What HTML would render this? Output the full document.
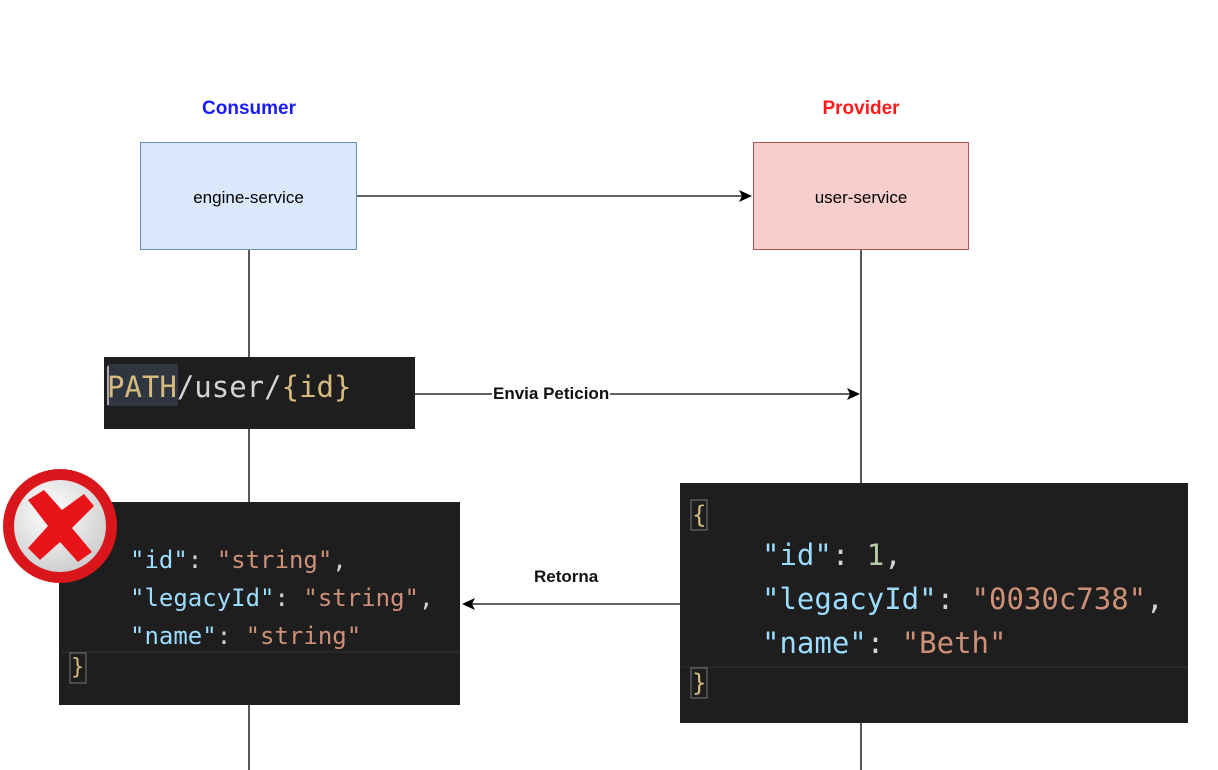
<!DOCTYPE html>
<html><head><meta charset="utf-8"><style>
body{margin:0;width:1218px;height:770px;background:#fff;position:relative;overflow:hidden;font-family:"Liberation Sans",sans-serif}
.a{position:absolute}
.mono{font-family:"DejaVu Sans Mono","Liberation Mono",monospace;white-space:pre}
.k{color:#9cdcfe}.s{color:#ce9178}.n{color:#b5cea8}.w{color:#d4d4d4}
</style></head><body>
<svg class="a" style="left:0;top:0" width="1218" height="770">
<line x1="249" y1="250" x2="249" y2="770" stroke="#000" stroke-width="1.3"/>
<line x1="861" y1="250" x2="861" y2="770" stroke="#000" stroke-width="1.3"/>
<rect x="140.5" y="142.5" width="216" height="107" fill="#dae8fc" stroke="#6c8ebf"/>
<rect x="753.5" y="142.5" width="215" height="107" fill="#f8cecc" stroke="#b85450"/>
<line x1="357" y1="196" x2="742" y2="196" stroke="#000" stroke-width="1.3"/>
<polygon points="752,196 739,190 742,196 739,202" fill="#000"/>
<rect x="104" y="357" width="311" height="72" fill="#1e1e1e"/>
<line x1="415" y1="394" x2="850" y2="394" stroke="#000" stroke-width="1.3"/>
<polygon points="860,394 847,388 850,394 847,400" fill="#000"/>
<rect x="59" y="502" width="401" height="203" fill="#1e1e1e"/>
<rect x="680" y="483" width="508" height="240" fill="#1e1e1e"/>
<line x1="680" y1="604" x2="472" y2="604" stroke="#000" stroke-width="1.3"/>
<polygon points="462,604 475,598 472,604 475,610" fill="#000"/>
<rect x="108" y="364" width="70" height="42" fill="#2f3640"/>
<line x1="108" y1="366" x2="108" y2="405" stroke="#aaa" stroke-width="2"/>
<rect x="70" y="653" width="16" height="30" fill="none" stroke="#777"/>
<rect x="691" y="500" width="16" height="30" fill="none" stroke="#777"/>
<rect x="691" y="668" width="16" height="30" fill="none" stroke="#777"/>
<line x1="682" y1="667" x2="1188" y2="667" stroke="#333"/>
<line x1="62" y1="652" x2="460" y2="652" stroke="#333"/>
<defs><radialGradient id="g" cx="0.4" cy="0.35" r="0.7"><stop offset="0" stop-color="#fff"/><stop offset="1" stop-color="#ccc"/></radialGradient></defs>
<circle cx="60" cy="526" r="57" fill="#d8161b"/>
<circle cx="60" cy="526" r="46" fill="url(#g)"/>
<path d="M28 500 L44 490 L62 510 L84 494 L94 506 L72 528 L92 552 L78 562 L60 542 L40 560 L28 548 L48 526 Z" fill="#e8141a"/>
</svg>
<div class="a" style="left:149px;top:98px;width:200px;text-align:center;color:#1a1aff;font-weight:bold;font-size:19px">Consumer</div>
<div class="a" style="left:761px;top:98px;width:200px;text-align:center;color:#ff1a1a;font-weight:bold;font-size:19px">Provider</div>
<div class="a" style="left:140px;top:188px;width:217px;text-align:center;font-size:17px">engine-service</div>
<div class="a" style="left:753px;top:188px;width:216px;text-align:center;font-size:17px">user-service</div>
<div class="a" style="left:492px;top:384px;background:#fff;font-size:17px;font-weight:bold;color:#111;padding:0 1px">Envia Peticion</div>
<div class="a" style="left:534px;top:567px;font-size:17px;font-weight:bold;color:#111">Retorna</div>
<div class="a mono" style="left:107px;top:370px;font-size:29px;line-height:34px;color:#d7ba7d">PATH<span style="color:#d4d4d4">/user/</span>{id}</div>
<div class="a mono" style="left:130px;top:541px;font-size:24px;line-height:38px"><span class="k">"id"</span><span class="w">: </span><span class="s">"string"</span><span class="w">,</span>
<span class="k">"legacyId"</span><span class="w">: </span><span class="s">"string"</span><span class="w">,</span>
<span class="k">"name"</span><span class="w">: </span><span class="s">"string"</span></div>
<div class="a mono" style="left:71px;top:653px;font-size:22px;line-height:30px;color:#d7ba7d">}</div>
<div class="a mono" style="left:692px;top:500px;font-size:24px;line-height:30px;color:#d7ba7d">{</div>
<div class="a mono" style="left:692px;top:668px;font-size:24px;line-height:30px;color:#d7ba7d">}</div>
<div class="a mono" style="left:762px;top:533px;font-size:29px;line-height:44px"><span class="k">"id"</span><span class="w">: </span><span class="n">1</span><span class="w">,</span>
<span class="k">"legacyId"</span><span class="w">: </span><span class="s">"0030c738"</span><span class="w">,</span>
<span class="k">"name"</span><span class="w">: </span><span class="s">"Beth"</span></div>
</body></html>
